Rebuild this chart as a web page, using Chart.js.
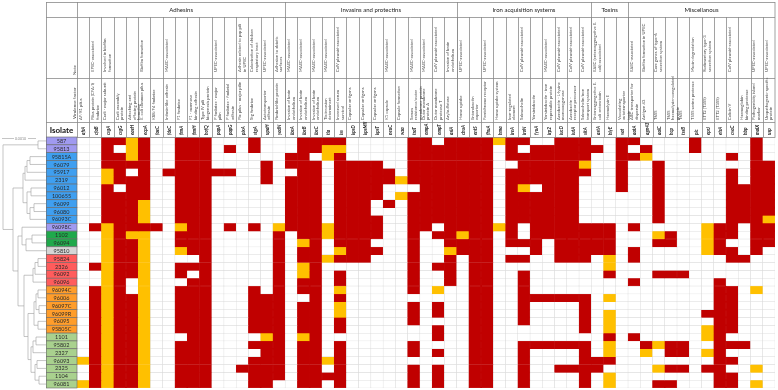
<!DOCTYPE html>
<html>
<head>
<meta charset="utf-8">
<script src="https://cdn.jsdelivr.net/npm/chart.js@4.4.1/dist/chart.umd.min.js"></script>
<style>
  html, body { margin: 0; padding: 0; background: #fff; }
</style>
</head>
<body>
<canvas id="chart" width="778" height="390"></canvas>
<script>
// isolates, top to bottom, and the clade colour of each label cell
const isolates = ['587', '95813', '95815A', '96079', '95917', '2319', '96012', '100655', '96099', '96080',
  '96093C', '96098C', '1102', '96094', '95810', '95824', '2326', '96092', '96096', '96094C', '96006',
  '96097C', '96099R', '96095', '95805C', '1101', '95802', '2327', '96093', '2325', '1104', '96081'];
const isolateClade = [0, 0, 1, 1, 1, 1, 1, 1, 1, 1, 1, 0, 2, 2, 3, 4, 4, 4, 4, 5, 5, 5, 5, 5, 5, 6, 6, 6, 6, 6, 6, 6];
const cladeColours = ['#a09af0', '#3f9ff0', '#1fa94b', '#d6d6d6', '#ff5c5c', '#ff9d2b', '#a9d18e'];

const groupNames = ['Adhesins', 'Invasins and protectins', 'Iron acquisition systems', 'Toxins', 'Miscellanous'];
const groupSizes = [17, 14, 11, 3, 12];

const genes = ['afrA', 'cfaB', 'csgA', 'csgG', 'eaeH', 'ecpA', 'faeC', 'fdeC', 'fimA', 'fimH', 'hofQ', 'papA',
  'papG', 'pixA', 'stgA', 'upaH', 'yadN',
  'ibeA', 'ibeB', 'ibeC', 'tia', 'iss', 'kpsD', 'kpsMII', 'kpsT', 'neuC', 'wza', 'traT', 'ompA', 'ompT', 'aslA',
  'chuA', 'entS', 'fhuA', 'hma', 'ireA', 'iroN', 'fyuA', 'irp2', 'iucD', 'iutA', 'sitA',
  'astA', 'hlyE', 'vat',
  'aatA', 'agn43', 'aaiC', 'hcp', 'tssB', 'pic', 'eprJ', 'etrA', 'cvaC', 'hbp', 'malX', 'usp'];

const factors = ['AF/R1 pilus', 'Pilus protein (CFA/I) fimbriae', 'Curli - major subunit', 'Curli assembly protein',
  'Attaching and effacing protein homolog', 'E. coli common pilus', 'K88/F4 fimbriae', 'Intimin-like adhesin',
  'F1 fimbriae', 'F1 - mannose binding adhesin', 'Type IV pili biogenesis protein', 'P fimbriae - major pilin',
  'P fimbriae - fimbrial adhesin', 'Pix pilus - major pilin', 'Stg fimbriae', 'Autotransporter adhesin',
  'Fimbrial-like protein',
  'Invasion of brain endothelium', 'Invasion of brain endothelium', 'Invasion of brain endothelium',
  'Tia invasion determinant', 'Increased serum survival', 'Capsular antigens', 'Capsular antigens',
  'Capsular antigens', 'K1 capsule', 'Capsule formation', 'Serum resistance/outer membrane protein',
  'Outer membrane protein A', 'Outer membrane protease T', 'Arylsulfatase',
  'Heme uptake', 'Enterobactin exporter', 'Ferrichrome receptor', 'Heme uptake system', 'Iron-regulated element',
  'Salmochelin', 'Yersiniabactin', 'Yersiniabactin - iron repressible protein',
  'Aerobactin - L-lysine monooxygenase', 'Aerobactin - receptor precursor', 'Salmochelin/iron transport system',
  'Enteroaggregative E. coli enterotoxin', 'Haemolysin E', 'Vacuolating autotransporter toxin',
  'ABC transporter for dispersin', 'Antigen 43', 'T6SS', 'T6SS haemolysin-coregulated protein', 'T6SS',
  'T5SS serine protease', 'ETT2 (T3SS)', 'ETT2 (T3SS)', 'Colicin V', 'Haemoglobin binding protease',
  'Pathogenicity island marker', 'Uropathogenic-specific protein'];

const notes = ['', 'EPEC-associated', 'Involved in biofilm formation', '', '', 'Biofilm formation', '',
  'MAEC-associated', '', '', '', 'UPEC-associated', '', 'Adhesin related to pap pili in UPEC',
  'Colonization of chicken respiratory tract', 'UPEC-associated', 'Adhesion to abiotic surfaces',
  'MAEC-associated', 'MAEC-associated', 'MAEC-associated', 'MAEC-associated', 'ColV plasmid-associated',
  '', '', '', 'MAEC-associated', '', 'MAEC-associated', 'MAEC-associated', 'ColV plasmid-associated',
  'Invasion of brain endothelium',
  'UPEC-associated', '', 'UPEC-associated', '', '', 'ColV plasmid-associated', '', 'MAEC-associated',
  'ColV plasmid-associated', 'ColV plasmid-associated', 'ColV plasmid-associated',
  'EAEC (enteroaggregative E. coli) associated', '', '',
  'EAEC-associated', 'Biofilm formation in UPEC', 'Core genes of type-6 secretion system', '', '',
  'Mucin degradation', 'Rudimentary type-3 secretion system', '', 'ColV plasmid-associated', '',
  'UPEC-associated', 'UPEC-associated'];

// one string per isolate, one char per gene: R present, Y partial, . absent (spaces only for reading)
const cells = [
  '..RRYR..RR R...R...RR RR.....RR. RRRRYRR..R RR..RR.... R....R.',
  '..R.YR..RR R.R.R...RR YY.....RRR RRRR.R.RRR RRR.R.R... R....R.',
  '..RRYR..RR R......RR. YR.....RRR RRRR.RRRRR RR..RRY... ...R.R.',
  '..RRRR..RR R....R.RRR .RRRR..RRR RRRR..RRRR RY..R..R.. .....RR',
  '..YR.R.RRR RRR..R..RR .RRRRR.RRR RRRR.RRRRR RR..R..R.. ...R.RR',
  '..YRRR..RR R....R.RRR .RRRRRYRRR RRRR.RRRRR R...R..R.. ...R.RR',
  '..R.RR..RR R......RRR .RRRR...RR RRRR.RY.RR R...R..R.. ...RRRR',
  '..RRRR..RR R......RRR .RRRR.YRRR RRRR.RRRRR R......R.. ...RRRR',
  '..RRRY..RR R......RRR .RRR.R.RRR RRRR.RRRRR R......R.. ...RRRR',
  '..RRRY..RR R......RRR .RRR...RRR RRRR.RRRRR R......R.. ...RRRR',
  '..RRRY..RR R......RRR .RRRR..RRR RRRR.RRRRR R......R.. ...RRRY',
  '.RYRRRR.YR R.R.R.YRRR YRRRR..RR. RRRRYR.RRR RRRR.R.... .YRR.RR',
  '..YRYY..RR R.....R.RR YRRRR..R.R RYRR.R.RRR RRRR...YR. .YRR.RR',
  '..YRRY..RR R.....R.YR .RRR...R.. RRRR.RRR.R RRRR...RR. .YR..RR',
  '..YRRY..YR R.....R.RR .YRRR..R.. YRRR...R.R RRRR.R.... .YRR.R.',
  '..YRRY.... R.....R.RR YRRR...R.. R.RR.RR..R RR.Y.R.... ...RR..',
  '.RYRRY..RR R.....R.YR .......R.R R.RR...... ...Y...... .......',
  '..YRRY..R. R.....R.YR .R.....R.. R.RR..R... ...R...RRR .......',
  '..YR.Y...R R.....R.RR .R.....R.. R.RR..R... .....R.... ..R....',
  '.RYR.Y..RR R...R.R.RR .Y.....R.Y ..RR..R... .......... ..RR.Y.',
  '.RYRRY..RR R...RRR..R .R........ ..RR..RRRR RR.Y...... ..RR...',
  '.RYRRY..RR R...RRR.RR .Y.....R.R ..RR..R... .R........ ..RR...',
  '.RYRRY..RR R...RRR.RR .Y.....R.R ..RR..R... .R.Y...... .RRR...',
  '.RYRRY..RR R...RRR.RR .R.....R.. ..RR..R... .R.Y...... ..RR...',
  '.RYRRY..RR R...RRR.RR .R.......R ..RR...... .R.Y...... .YRR...',
  '.RYRRY...R R....YR.YR .........R ..RR...... ...R.R.... .YR....',
  '.RYRRY..RR R...RRR.RR .R.....R.. ..RR..RRRR RR.Y..RYRR ..RRR..',
  '.RYRRY..RR R....RR.RR .R.....R.R ..RR..R... .R.Y..Y.RR .YR....',
  'YRYRRY..RR R...RRR.RR YR........ ..RR..R... .RRR...... ..RR...',
  '.RYRRY..RR R..RRRR.RR .R.....R.R ..RR..R..R RRR....YRR .RR..Y.',
  '.RYRRY..RR R...RRR.RR RR.....R.R ..RR..R... .R.Y...... ..RR...',
  'YRYRRY..RR R...RR..RR .R.....R.R ..RR..R... .R.Y...RR. ..RR.Y.'
];

// dendrogram joins: [child, child, height]; ids 0..31 are isolates, then new nodes in order
const treeMerges = [
  [0, 1, 8],
  [2, 3, 16], [33, 4, 19], [34, 5, 21], [6, 7, 15], [8, 9, 12], [37, 10, 16], [36, 38, 19], [35, 39, 23],
  [12, 13, 14], [41, 14, 20], [11, 42, 24],
  [15, 16, 8], [44, 17, 11], [45, 18, 13],
  [19, 20, 8], [21, 22, 7], [47, 48, 10], [23, 24, 8], [49, 50, 12],
  [25, 26, 10], [52, 27, 13], [28, 29, 9], [30, 31, 7], [54, 55, 11], [53, 56, 15],
  [51, 57, 18], [46, 58, 22], [43, 59, 28],
  [40, 60, 33], [32, 61, 43]
];

const fill = { R: '#c00000', Y: '#ffc000', '.': '#ffffff' };
const FONT = 'Lato, "Open Sans", sans-serif';

function wrapText(ctx, text, maxW) {
  const words = text.split(' ');
  const lines = [];
  let cur = '';
  for (const w of words) {
    const t = cur ? cur + ' ' + w : w;
    if (ctx.measureText(t).width > maxW && cur) {
      lines.push(cur);
      cur = w;
    } else {
      cur = t;
    }
  }
  if (cur) lines.push(cur);
  return lines;
}

// text running upwards, starting at yBottom
function upText(ctx, text, xLeft, yBottom, maxW, lh) {
  const lines = wrapText(ctx, text, maxW);
  ctx.save();
  ctx.translate(xLeft, yBottom);
  ctx.rotate(-Math.PI / 2);
  lines.forEach((s, i) => ctx.fillText(s, 0, 1 + i * lh));
  ctx.restore();
}

const headerPlugin = {
  id: 'header',
  afterDraw(chart) {
    const ctx = chart.ctx;
    const xs = chart.scales.x;
    const ys = chart.scales.y;
    const a = chart.chartArea;
    const cw = (a.right - a.left) / genes.length;
    const colLeft = i => xs.getPixelForValue(i) - cw / 2;
    const L = 46, T = 2, r1 = 17, r2 = 78, r3 = 122, B = a.top;

    ctx.save();
    // header lines
    ctx.strokeStyle = '#8a8a8a';
    ctx.lineWidth = 0.8;
    ctx.strokeRect(L + 0.5, T + 0.5, a.right - L - 0.5, B - T);
    ctx.beginPath();
    [r1, r2, r3].forEach(yy => { ctx.moveTo(L, yy + 0.5); ctx.lineTo(a.right, yy + 0.5); });
    ctx.moveTo(a.left + 0.5, T); ctx.lineTo(a.left + 0.5, B);
    for (let i = 1; i < genes.length; i++) {
      const xx = Math.round(colLeft(i)) + 0.5;
      ctx.moveTo(xx, r1); ctx.lineTo(xx, B);
    }
    let start = 0;
    groupSizes.forEach(n => {
      start += n;
      if (start < genes.length) {
        const xx = Math.round(colLeft(start)) + 0.5;
        ctx.moveTo(xx, T); ctx.lineTo(xx, B);
      }
    });
    ctx.stroke();

    // group titles
    ctx.fillStyle = '#222';
    ctx.font = '6px ' + FONT;
    ctx.textAlign = 'center';
    ctx.textBaseline = 'middle';
    start = 0;
    groupSizes.forEach((n, g) => {
      const x0 = colLeft(start), x1 = colLeft(start) + n * cw;
      ctx.fillText(groupNames[g], (x0 + x1) / 2, (T + r1) / 2 + 1);
      start += n;
    });

    // row captions of first column
    ctx.textAlign = 'left';
    ctx.textBaseline = 'top';
    ctx.fillStyle = '#444';
    ctx.font = '4.5px ' + FONT;
    upText(ctx, 'Note', a.left - 6, r2 - 3, 60, 5);
    upText(ctx, 'Virulence factor', a.left - 6, r3 - 3, 60, 5);
    ctx.font = 'bold 8px ' + FONT;
    ctx.textAlign = 'center';
    ctx.textBaseline = 'middle';
    ctx.fillStyle = '#111';
    ctx.fillText('Isolate', (L + a.left) / 2, (r3 + B) / 2 + 1);

    // column texts
    ctx.textAlign = 'left';
    ctx.textBaseline = 'top';
    genes.forEach((g, i) => {
      const x0 = colLeft(i);
      ctx.fillStyle = '#444';
      ctx.font = '4.2px ' + FONT;
      if (notes[i]) upText(ctx, notes[i], x0 + 0.5, r2 - 6, r2 - r1 - 10, 4.6);
      upText(ctx, factors[i], x0 + 0.5, r3 - 2, r3 - r2 - 5, 4.6);
      ctx.fillStyle = '#222';
      ctx.font = 'italic bold 4.6px ' + FONT;
      upText(ctx, g, x0 + cw / 2 - 2.5, B - 2, 40, 5);
    });

    // isolate label cells
    isolates.forEach((name, r) => {
      const y0 = ys.getPixelForValue(r), y1 = ys.getPixelForValue(r + 1);
      ctx.fillStyle = cladeColours[isolateClade[r]];
      ctx.fillRect(L, y0, a.left - L, y1 - y0);
      ctx.strokeStyle = '#6a6a6a';
      ctx.lineWidth = 0.6;
      ctx.strokeRect(L + 0.5, y0, a.left - L - 0.5, y1 - y0);
      ctx.fillStyle = '#2a2a2a';
      ctx.font = '5.5px ' + FONT;
      ctx.textAlign = 'center';
      ctx.textBaseline = 'middle';
      ctx.fillText(name, (L + a.left) / 2, (y0 + y1) / 2 + 0.3);
    });

    // dendrogram
    const nx = [], ny = [];
    isolates.forEach((_, r) => {
      nx[r] = L;
      ny[r] = (ys.getPixelForValue(r) + ys.getPixelForValue(r + 1)) / 2;
    });
    ctx.strokeStyle = '#9d9d9d';
    ctx.lineWidth = 0.6;
    ctx.beginPath();
    treeMerges.forEach(([p, q, h], k) => {
      const id = isolates.length + k;
      const xx = L - h;
      nx[id] = xx;
      ny[id] = (ny[p] + ny[q]) / 2;
      ctx.moveTo(nx[p], ny[p]); ctx.lineTo(xx, ny[p]);
      ctx.moveTo(nx[q], ny[q]); ctx.lineTo(xx, ny[q]);
      ctx.moveTo(xx, ny[p]); ctx.lineTo(xx, ny[q]);
    });
    ctx.stroke();

    // scale bar
    ctx.beginPath();
    ctx.moveTo(2, a.top + 1.5); ctx.lineTo(14, a.top + 1.5);
    ctx.moveTo(28, a.top + 1.5); ctx.lineTo(36, a.top + 1.5);
    ctx.stroke();
    ctx.fillStyle = '#8a8a8a';
    ctx.font = '3.5px ' + FONT;
    ctx.textAlign = 'left';
    ctx.textBaseline = 'middle';
    ctx.fillText('0.0010', 15, a.top + 1.5);
    ctx.restore();
  }
};

new Chart(document.getElementById('chart'), {
  type: 'bar',
  data: {
    labels: genes,
    datasets: isolates.map((name, r) => {
      const row = (cells[r].replace(/ /g, '') + '.'.repeat(genes.length)).slice(0, genes.length).split('');
      return {
        label: name,
        data: genes.map(() => 1),
        backgroundColor: row.map(c => fill[c]),
        borderColor: row.map(c => (c === '.' ? '#d9d9d9' : fill[c])),
        borderWidth: 0.5,
        borderSkipped: false,
        barPercentage: 1,
        categoryPercentage: 1,
        stack: 'grid'
      };
    })
  },
  options: {
    responsive: false,
    animation: false,
    devicePixelRatio: 1,
    layout: { padding: { left: 77, right: 3, top: 137, bottom: 2 } },
    scales: {
      x: { stacked: true, display: false },
      y: { stacked: true, display: false, min: 0, max: isolates.length, reverse: true }
    },
    plugins: {
      legend: { display: false },
      tooltip: { enabled: false }
    }
  },
  plugins: [headerPlugin]
});
</script>
</body>
</html>
